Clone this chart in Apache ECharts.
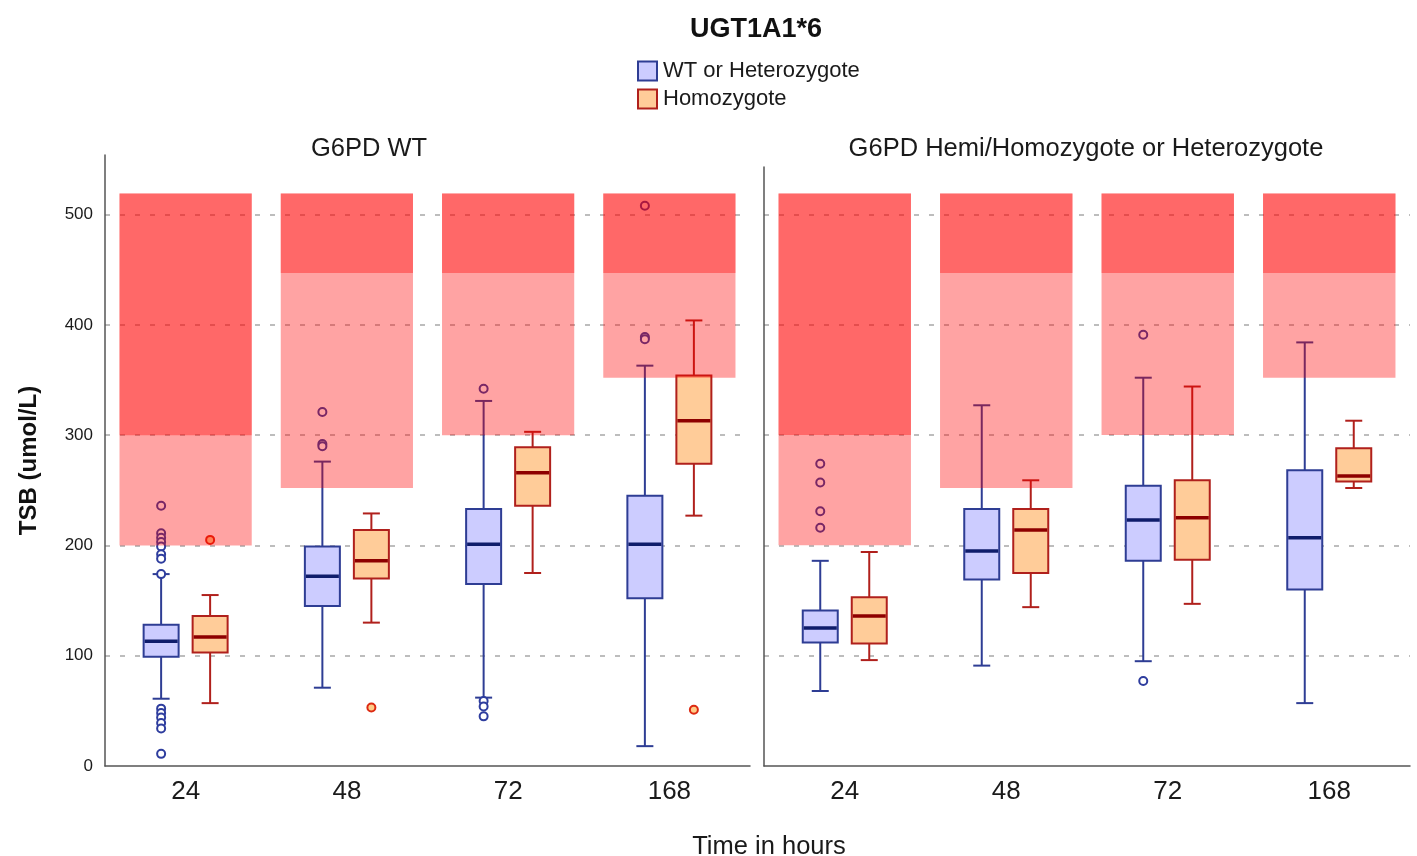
<!DOCTYPE html>
<html>
<head>
<meta charset="utf-8">
<title>UGT1A1*6</title>
<script src="https://cdn.jsdelivr.net/npm/echarts@6/dist/echarts.min.js"></script>
<style>
  html, body { margin: 0; padding: 0; background: #fff; }
  #chart { width: 1417px; height: 856px; }
</style>
</head>
<body>
<div id="chart"></div>
<script>
const hours = ['24', '48', '72', '168'];

// box stats: [min, Q1, median, Q3, max] per hour
const wtHetG6pdWt = [[61, 99, 113, 128, 174], [71, 145, 172, 199, 276], [62, 165, 201, 233, 331], [18, 152, 201, 245, 363]];
const homoG6pdWt = [[57, 103, 117, 136, 155], [130, 170, 186, 214, 229], [175, 236, 266, 289, 303], [227, 274, 313, 354, 404]];
const wtHetG6pdVar = [[68, 112, 125, 141, 186], [91, 169, 195, 233, 327], [95, 186, 223, 254, 352], [57, 160, 207, 268, 384]];
const homoG6pdVar = [[96, 111, 136, 153, 194], [144, 175, 214, 233, 259], [147, 187, 225, 259, 344], [252, 258, 263, 288, 313]];

// outliers: [hour index, value]
const wtHetG6pdWtOut = [[0, 236], [0, 211], [0, 207], [0, 203], [0, 199], [0, 192], [0, 188], [0, 174],
    [0, 52], [0, 48], [0, 44], [0, 39], [0, 34], [0, 11],
    [1, 321], [1, 292], [1, 290], [2, 342], [2, 59], [2, 54], [2, 45], [3, 508], [3, 389], [3, 387]];
const homoG6pdWtOut = [[0, 205], [1, 53], [3, 51]];
const wtHetG6pdVarOut = [[0, 274], [0, 257], [0, 231], [0, 216], [2, 391], [2, 77]];
const homoG6pdVarOut = [];

// shaded risk zones (same in both panels)
const lightFrom = [200, 252, 300, 352];
const darkFrom = [300, 447, 447, 447];
const zoneTop = 519;

const yTicks = { min: 0, interval: 100 };

const BLUE = { fill: '#ccccff', stroke: '#2e3d94', median: '#0f1d6b', dot: '#2e3d9e', dotFill: '#ffffff' };
const ORANGE = { fill: '#ffcc99', stroke: '#b0201c', median: '#8e0000', dot: '#dd2a12', dotFill: '#ffcc88' };
const FONT = "'Liberation Sans', Arial, sans-serif";
const BOX_W = 35;
const OFFSET = 24.5;

function boxRender(offset, c) {
    return function (params, api) {
        const cat = api.value(0);
        const cx = api.coord([cat, 0])[0] + offset;
        const y = (i) => api.coord([cat, api.value(i)])[1];
        const line = (x1, y1, x2, y2, stroke, w) => ({
            type: 'line',
            shape: { x1: x1, y1: y1, x2: x2, y2: y2 },
            style: { stroke: stroke, lineWidth: w }
        });
        return {
            type: 'group',
            children: [
                line(cx, y(1), cx, y(2), c.stroke, 2),
                line(cx, y(4), cx, y(5), c.stroke, 2),
                line(cx - 8.5, y(1), cx + 8.5, y(1), c.stroke, 2),
                line(cx - 8.5, y(5), cx + 8.5, y(5), c.stroke, 2),
                {
                    type: 'rect',
                    shape: { x: cx - BOX_W / 2, y: y(4), width: BOX_W, height: y(2) - y(4) },
                    style: { fill: c.fill, stroke: c.stroke, lineWidth: 2 }
                },
                line(cx - BOX_W / 2 + 1, y(3), cx + BOX_W / 2 - 1, y(3), c.median, 3.5)
            ]
        };
    };
}

function dotRender(offset, c) {
    return function (params, api) {
        const p = api.coord([api.value(0), api.value(1)]);
        return {
            type: 'circle',
            shape: { cx: p[0] + offset, cy: p[1], r: 4 },
            style: { fill: c.dotFill, stroke: c.dot, lineWidth: 2 }
        };
    };
}

function zoneRender(params, api) {
    const cat = api.value(0);
    const bw = api.size([1, 0])[0] * 0.82;
    const top = api.coord([cat, api.value(2)]);
    const bottom = api.coord([cat, api.value(1)]);
    return {
        type: 'rect',
        shape: { x: top[0] - bw / 2, y: top[1], width: bw, height: bottom[1] - top[1] },
        style: { fill: 'rgba(255,0,0,0.36)' }
    };
}

const zoneData = [];
hours.forEach((h, i) => {
    zoneData.push([i, lightFrom[i], zoneTop]);
    zoneData.push([i, darkFrom[i], zoneTop]);
});

function boxData(stats) {
    return stats.map((s, i) => [i].concat(s));
}

function panelSeries(idx, wt, homo, wtOut, homoOut) {
    return [
        {
            name: 'WT or Heterozygote', type: 'custom', xAxisIndex: idx, yAxisIndex: idx,
            renderItem: boxRender(-OFFSET, BLUE), encode: { x: 0, y: [1, 2, 3, 4, 5] },
            itemStyle: { color: BLUE.fill }, data: boxData(wt), z: 2
        },
        {
            name: 'Homozygote', type: 'custom', xAxisIndex: idx, yAxisIndex: idx,
            renderItem: boxRender(OFFSET, ORANGE), encode: { x: 0, y: [1, 2, 3, 4, 5] },
            itemStyle: { color: ORANGE.fill }, data: boxData(homo), z: 2
        },
        {
            name: 'WT or Heterozygote', type: 'custom', xAxisIndex: idx, yAxisIndex: idx,
            renderItem: dotRender(-OFFSET, BLUE), encode: { x: 0, y: 1 },
            data: wtOut, z: 3
        },
        {
            name: 'Homozygote', type: 'custom', xAxisIndex: idx, yAxisIndex: idx,
            renderItem: dotRender(OFFSET, ORANGE), encode: { x: 0, y: 1 },
            data: homoOut, z: 3
        },
        {
            type: 'custom', xAxisIndex: idx, yAxisIndex: idx,
            renderItem: zoneRender, encode: { x: 0, y: [1, 2] },
            data: zoneData, z: 5, silent: true
        }
    ];
}

function xAxisFor(gridIndex) {
    return {
        type: 'category', gridIndex: gridIndex, data: hours,
        axisLine: { lineStyle: { color: '#555', width: 1.5 } },
        axisTick: { show: false },
        axisLabel: { fontSize: 26, color: '#1a1a1a', fontFamily: FONT, margin: 13 },
        splitLine: { show: false }
    };
}

function yAxisFor(gridIndex, max, showLabels) {
    return {
        type: 'value', gridIndex: gridIndex, min: yTicks.min, max: max, interval: yTicks.interval,
        name: showLabels ? 'TSB (umol/L)' : '',
        nameLocation: 'middle', nameRotate: 90, nameGap: 64,
        nameTextStyle: { fontSize: 24, fontWeight: 'bold', color: '#111', fontFamily: FONT },
        axisLine: { show: true, lineStyle: { color: '#555', width: 1.5 } },
        axisTick: { show: false },
        axisLabel: { show: showLabels, fontSize: 17, color: '#1a1a1a', fontFamily: FONT, margin: 12, showMaxLabel: false },
        splitLine: { show: true, showMinLine: false, showMaxLine: false, lineStyle: { color: '#bdbdbd', width: 2, type: [5, 10] } }
    };
}

const chart = echarts.init(document.getElementById('chart'));

const option = {
    animation: false,
    backgroundColor: '#fff',
    textStyle: { fontFamily: FONT },
    title: [
        { text: 'UGT1A1*6', left: 751, top: 11, textAlign: 'center', textStyle: { fontSize: 27, fontWeight: 'bold', color: '#111', fontFamily: FONT } },
        { text: 'G6PD WT', left: 364, top: 131, textAlign: 'center', textStyle: { fontSize: 25.5, fontWeight: 'normal', color: '#1a1a1a', fontFamily: FONT } },
        { text: 'G6PD Hemi/Homozygote or Heterozygote', left: 1081, top: 131, textAlign: 'center', textStyle: { fontSize: 25.5, fontWeight: 'normal', color: '#1a1a1a', fontFamily: FONT } },
        { text: 'Time in hours', left: 764, top: 829, textAlign: 'center', textStyle: { fontSize: 25.5, fontWeight: 'normal', color: '#1a1a1a', fontFamily: FONT } }
    ],
    legend: {
        orient: 'vertical', left: 637, top: 60, padding: 0,
        itemWidth: 19, itemHeight: 19, itemGap: 6,
        icon: 'rect',
        textStyle: { fontSize: 22, color: '#1a1a1a', fontFamily: FONT, padding: [0, 0, 0, 1] },
        data: [
            { name: 'WT or Heterozygote', itemStyle: { color: BLUE.fill, borderColor: BLUE.stroke, borderWidth: 2 } },
            { name: 'Homozygote', itemStyle: { color: ORANGE.fill, borderColor: ORANGE.stroke, borderWidth: 2 } }
        ]
    },
    grid: [
        { left: 105, top: 155, width: 645, height: 611 },
        { left: 764, top: 167, width: 646, height: 599 }
    ],
    xAxis: [xAxisFor(0), xAxisFor(1)],
    yAxis: [yAxisFor(0, 554, true), yAxisFor(1, 543, false)],
    series: panelSeries(0, wtHetG6pdWt, homoG6pdWt, wtHetG6pdWtOut, homoG6pdWtOut)
        .concat(panelSeries(1, wtHetG6pdVar, homoG6pdVar, wtHetG6pdVarOut, homoG6pdVarOut))
};

chart.setOption(option);
</script>
</body>
</html>
